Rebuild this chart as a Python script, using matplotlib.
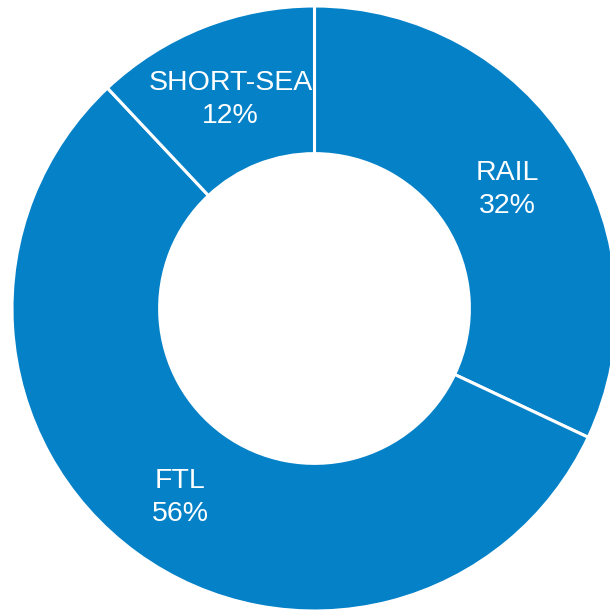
import matplotlib.pyplot as plt
import numpy as np

# Modal split donut
categories = ['RAIL', 'FTL', 'SHORT-SEA']
shares = [32, 56, 12]
BLUE = '#0581C8'

fig = plt.figure(figsize=(6.10, 6.13), dpi=100)
ax = fig.add_axes([0, 0, 1, 1])

wedges, _ = ax.pie(shares, startangle=90, counterclock=False, radius=1.0,
                   colors=[BLUE] * len(shares),
                   wedgeprops=dict(width=0.488, edgecolor='white', linewidth=2.2))

# labels sit in the middle of the ring
mid_r = 1.0 - 0.488 / 2
for w, cat, val in zip(wedges, categories, shares):
    ang = np.deg2rad((w.theta1 + w.theta2) / 2)
    ax.text(mid_r * np.cos(ang), mid_r * np.sin(ang) - 0.012, f'{cat}\n{val}%',
            ha='center', va='center', color='white', fontsize=20.5,
            family='Liberation Sans', linespacing=1.35)

# outer edge clipped a bit on the right, like the original
ax.set_aspect('auto')
ax.set_xlim(-314.5 / 302.5, (610 - 314.5) / 302.5)
ax.set_ylim(-304.5 / 302.5, (613 - 304.5) / 302.5)
ax.axis('off')

fig.savefig('out.png', dpi=100)
